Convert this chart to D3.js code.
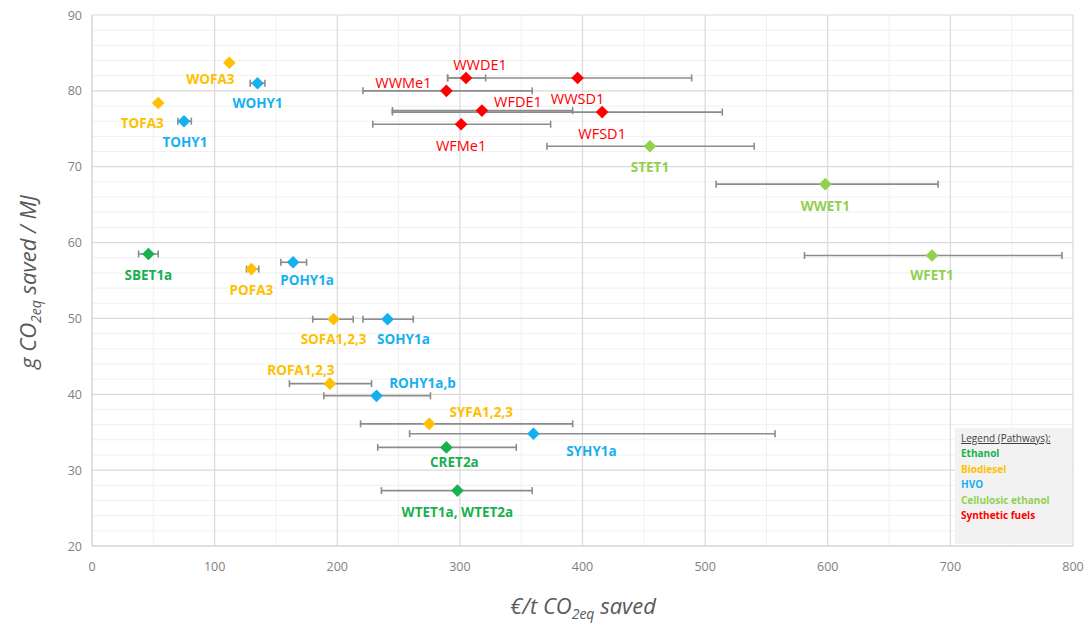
<html>
<head>
<meta charset="utf-8">
<script src="https://d3js.org/d3.v7.min.js"></script>
<style>
  body { margin: 0; background: #fff; }
  text { font-family: "Open Sans", "Noto Sans", sans-serif; }
</style>
</head>
<body>
<svg id="chart"></svg>
<script>
// pathways (legend)
var pathways = ["Ethanol", "Biodiesel", "HVO", "Cellulosic ethanol", "Synthetic fuels"];
var pathwayColors = ["#19b04f", "#ffc000", "#17b0ef", "#92d050", "#ff0000"];

// points
var names = ["SBET1a", "CRET2a", "WTET1a, WTET2a",
  "WOFA3", "TOFA3", "POFA3", "SOFA1,2,3", "ROFA1,2,3", "SYFA1,2,3",
  "WOHY1", "TOHY1", "POHY1a", "SOHY1a", "ROHY1a,b", "SYHY1a",
  "STET1", "WWET1", "WFET1",
  "WWDE1", "WWSD1", "WWMe1", "WFDE1", "WFSD1", "WFMe1"];
var groups = [0, 0, 0, 1, 1, 1, 1, 1, 1, 2, 2, 2, 2, 2, 2, 3, 3, 3, 4, 4, 4, 4, 4, 4];
var costs = [46, 289, 298, 112, 54, 130, 197, 194, 275, 135, 75, 164, 241, 232, 360, 455, 598, 685, 305, 396, 289, 318, 416, 301];
var savings = [58.5, 33.0, 27.3, 83.7, 78.4, 56.5, 49.9, 41.4, 36.1, 81.0, 76.0, 57.4, 49.9, 39.8, 34.8, 72.7, 67.7, 58.3, 81.7, 81.7, 80.0, 77.4, 77.2, 75.6];
var costLow = [38, 233, 236, null, null, 126, 180, 161, 219, 129, 70, 154, 221, 189, 259, 371, 509, 581, 290, 290, 221, 245, 245, 229];
var costHigh = [54, 346, 359, null, null, 136, 213, 228, 392, 141, 81, 175, 262, 276, 557, 540, 690, 791, 321, 489, 359, 392, 514, 374];

// axes
var xTicks = [0, 100, 200, 300, 400, 500, 600, 700, 800];
var yTicks = [20, 30, 40, 50, 60, 70, 80, 90];

// label offsets relative to marker (px)
var labelOffsets = {
  "SBET1a": [0, 21], "CRET2a": [8, 15], "WTET1a, WTET2a": [0, 21],
  "WOFA3": [-19, 16], "TOFA3": [-16, 20], "POFA3": [0, 21], "SOFA1,2,3": [0, 20],
  "ROFA1,2,3": [-29, -14], "SYFA1,2,3": [52, -12],
  "WOHY1": [0, 20], "TOHY1": [1, 21], "POHY1a": [14, 18], "SOHY1a": [16, 20],
  "ROHY1a,b": [46, -13], "SYHY1a": [58, 17],
  "STET1": [0, 21], "WWET1": [0, 22], "WFET1": [0, 20],
  "WWDE1": [14, -13], "WWSD1": [0, 21], "WWMe1": [-43, -8], "WFDE1": [36, -9],
  "WFSD1": [0, 22], "WFMe1": [0, 22]
};

var W = 1091, H = 628;
var svg = d3.select("#chart").attr("width", W).attr("height", H);

var x = d3.scaleLinear().domain([0, 800]).range([92, 1073]);
var y = d3.scaleLinear().domain([20, 90]).range([546, 15]);

// minor grid
svg.append("g").selectAll("line").data(d3.range(50, 800, 100)).join("line")
  .attr("x1", d => x(d)).attr("x2", d => x(d)).attr("y1", y(20)).attr("y2", y(90))
  .attr("stroke", "#f0f0f0").attr("stroke-width", 1);
svg.append("g").selectAll("line").data(d3.range(22, 90, 2).filter(d => d % 10 != 0)).join("line")
  .attr("x1", x(0)).attr("x2", x(800)).attr("y1", d => y(d)).attr("y2", d => y(d))
  .attr("stroke", "#f0f0f0").attr("stroke-width", 1);

// major grid
svg.append("g").selectAll("line").data(xTicks.slice(1)).join("line")
  .attr("x1", d => x(d)).attr("x2", d => x(d)).attr("y1", y(20)).attr("y2", y(90))
  .attr("stroke", "#d9d9d9").attr("stroke-width", 1.2);
svg.append("g").selectAll("line").data(yTicks.slice(1)).join("line")
  .attr("x1", x(0)).attr("x2", x(800)).attr("y1", d => y(d)).attr("y2", d => y(d))
  .attr("stroke", "#d9d9d9").attr("stroke-width", 1.2);

// axis lines
svg.append("line").attr("x1", x(0)).attr("x2", x(0)).attr("y1", y(20)).attr("y2", y(90))
  .attr("stroke", "#bfbfbf");
svg.append("line").attr("x1", x(0)).attr("x2", x(800)).attr("y1", y(20)).attr("y2", y(20))
  .attr("stroke", "#bfbfbf");

// tick labels
svg.append("g").selectAll("text").data(xTicks).join("text")
  .attr("x", d => x(d)).attr("y", 571)
  .attr("text-anchor", "middle").attr("font-size", 12.5).attr("fill", "#7f7f7f")
  .text(d => d);
svg.append("g").selectAll("text").data(yTicks).join("text")
  .attr("x", 82).attr("y", d => y(d) + 4.5)
  .attr("text-anchor", "end").attr("font-size", 12.5).attr("fill", "#7f7f7f")
  .text(d => d);

// axis titles
var xt = svg.append("text").attr("x", 583).attr("y", 614).attr("text-anchor", "middle")
  .attr("font-size", 22).attr("font-style", "italic").attr("fill", "#595959");
xt.append("tspan").text("€/t CO");
xt.append("tspan").attr("font-size", 14).attr("dy", 5).text("2eq");
xt.append("tspan").attr("dy", -5).text(" saved");

var yt = svg.append("text").attr("transform", "translate(36,282) rotate(-90)").attr("text-anchor", "middle")
  .attr("font-size", 22).attr("font-style", "italic").attr("fill", "#595959");
yt.append("tspan").text("g CO");
yt.append("tspan").attr("font-size", 14).attr("dy", 5).text("2eq");
yt.append("tspan").attr("dy", -5).text(" saved / MJ");

// error bars
var idx = d3.range(names.length);
var eb = svg.append("g").selectAll("g").data(idx.filter(i => costLow[i] != null)).join("g")
  .attr("stroke", "#8c8c8c").attr("stroke-width", 1.6);
eb.append("line").attr("x1", i => x(costLow[i])).attr("x2", i => x(costHigh[i]))
  .attr("y1", i => y(savings[i])).attr("y2", i => y(savings[i]));
eb.append("line").attr("x1", i => x(costLow[i])).attr("x2", i => x(costLow[i]))
  .attr("y1", i => y(savings[i]) - 3.5).attr("y2", i => y(savings[i]) + 3.5);
eb.append("line").attr("x1", i => x(costHigh[i])).attr("x2", i => x(costHigh[i]))
  .attr("y1", i => y(savings[i]) - 3.5).attr("y2", i => y(savings[i]) + 3.5);

// markers
var diamond = d3.symbol().type(d3.symbolSquare).size(80);
svg.append("g").selectAll("path").data(idx).join("path")
  .attr("d", diamond)
  .attr("transform", i => "translate(" + x(costs[i]) + "," + y(savings[i]) + ") rotate(45)")
  .attr("fill", i => pathwayColors[groups[i]]);

// point labels
svg.append("g").selectAll("text").data(idx).join("text")
  .attr("x", i => x(costs[i]) + labelOffsets[names[i]][0])
  .attr("y", i => y(savings[i]) + labelOffsets[names[i]][1] + 5)
  .attr("text-anchor", "middle").attr("font-size", i => groups[i] == 4 ? 14.5 : 13.5)
  .attr("font-weight", i => groups[i] == 4 ? 400 : 700)
  .attr("fill", i => pathwayColors[groups[i]])
  .text(i => names[i]);

// legend
var lg = svg.append("g");
lg.append("rect").attr("x", 955).attr("y", 428).attr("width", 117).attr("height", 116).attr("fill", "#f2f2f2");
lg.append("text").attr("x", 961).attr("y", 442).attr("font-size", 10).attr("fill", "#404040")
  .attr("text-decoration", "underline").text("Legend (Pathways):");
lg.selectAll(".li").data(pathways).join("text").attr("class", "li")
  .attr("x", 961).attr("y", (d, i) => 457 + i * 15.5)
  .attr("font-size", 10).attr("font-weight", 700)
  .attr("fill", (d, i) => pathwayColors[i]).text(d => d);
</script>
</body>
</html>
